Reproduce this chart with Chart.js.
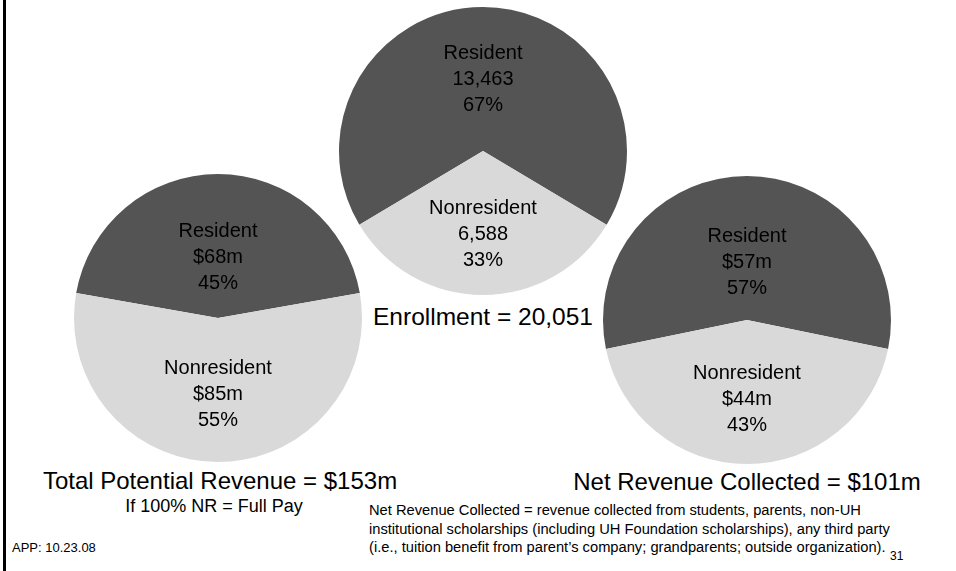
<!DOCTYPE html>
<html>
<head>
<meta charset="utf-8">
<script src="https://cdn.jsdelivr.net/npm/chart.js@4"></script>
<style>
    body { margin: 0; background: #fff; font-family: "Liberation Sans", Arial, sans-serif; color: #000; }
    #pagina { position: relative; width: 956px; height: 571px; overflow: hidden; }
    #borda { position: absolute; left: 3px; top: 0; width: 2.5px; height: 571px; background: #000; }
    .pizza { position: absolute; width: 288px; height: 288px; }
    .texto { position: absolute; white-space: nowrap; }
    .centro { transform: translateX(-50%); }
</style>
</head>
<body>
<div id="pagina">
    <div id="borda"></div>
    <div class="pizza" style="left:339px; top:7px"><canvas id="grafico_matricula"></canvas></div>
    <div class="pizza" style="left:74px; top:174px"><canvas id="grafico_potencial"></canvas></div>
    <div class="pizza" style="left:603px; top:176px"><canvas id="grafico_liquida"></canvas></div>

    <div class="texto centro" style="left:483px; top:303px; font-size:24.5px">Enrollment = 20,051</div>
    <div class="texto centro" style="left:220px; top:467px; font-size:24px">Total Potential Revenue = $153m</div>
    <div class="texto centro" style="left:214px; top:496px; font-size:18px">If 100% NR = Full Pay</div>
    <div class="texto centro" style="left:747px; top:468px; font-size:24px">Net Revenue Collected = $101m</div>
    <div class="texto" style="left:369px; top:501px; font-size:14.7px; line-height:18.5px">Net Revenue Collected = revenue collected from students, parents, non-UH<br>institutional scholarships (including UH Foundation scholarships), any third party<br>(i.e., tuition benefit from parent’s company; grandparents; outside organization).</div>
    <div class="texto" style="left:890px; top:549px; font-size:12px">31</div>
    <div class="texto" style="left:12px; top:540px; font-size:13px">APP: 10.23.08</div>
</div>

<script>
// dados das fatias
const categorias = ["Resident", "Nonresident"]

const matricula = [13463, 6588]
const matriculaTexto = ["13,463", "6,588"]
const matriculaPct = ["67%", "33%"]

const receitaPotencial = [68, 85]
const receitaPotencialTexto = ["$68m", "$85m"]
const receitaPotencialPct = ["45%", "55%"]

const receitaLiquida = [57, 44]
const receitaLiquidaTexto = ["$57m", "$44m"]
const receitaLiquidaPct = ["57%", "43%"]

const corEscuro = "#545454"
const corClaro = "#d9d9d9"

// escreve as tres linhas dentro de cada fatia
const rotulosFatia = {
    id: "rotulosFatia",
    afterDatasetsDraw(chart, args, opts) {
        const ctx = chart.ctx
        const meta = chart.getDatasetMeta(0)
        ctx.save()
        ctx.font = "20px 'Liberation Sans', Arial, sans-serif"
        ctx.fillStyle = "#000"
        ctx.textAlign = "center"
        ctx.textBaseline = "middle"
        meta.data.forEach((arco, i) => {
            const p = arco.getProps(["x", "y", "startAngle", "endAngle", "outerRadius"], true)
            const meio = (p.startAngle + p.endAngle) / 2
            const r = p.outerRadius * opts.distancia[i]
            const cx = p.x + Math.cos(meio) * r
            const cy = p.y + Math.sin(meio) * r
            const linhas = [categorias[i], opts.valores[i], opts.pct[i]]
            linhas.forEach((txt, j) => {
                ctx.fillText(txt, cx, cy + (j - 1) * 26)
            })
        })
        ctx.restore()
    }
}

function fazerPizza(id, dados, valores, pct, distancia) {
    const total = dados.reduce((a, b) => a + b, 0)
    // residente centrado no topo
    const rotacao = -180 * dados[0] / total
    new Chart(document.getElementById(id), {
        type: "pie",
        data: {
            labels: categorias,
            datasets: [{
                data: dados,
                backgroundColor: [corEscuro, corClaro],
                borderWidth: 0
            }]
        },
        options: {
            responsive: true,
            maintainAspectRatio: false,
            animation: false,
            events: [],
            rotation: rotacao,
            layout: { padding: 0 },
            plugins: {
                legend: { display: false },
                tooltip: { enabled: false },
                rotulosFatia: { valores: valores, pct: pct, distancia: distancia }
            }
        },
        plugins: [rotulosFatia]
    })
}

fazerPizza("grafico_matricula", matricula, matriculaTexto, matriculaPct, [0.5, 0.58])
fazerPizza("grafico_potencial", receitaPotencial, receitaPotencialTexto, receitaPotencialPct, [0.42, 0.53])
fazerPizza("grafico_liquida", receitaLiquida, receitaLiquidaTexto, receitaLiquidaPct, [0.4, 0.55])
</script>
</body>
</html>
